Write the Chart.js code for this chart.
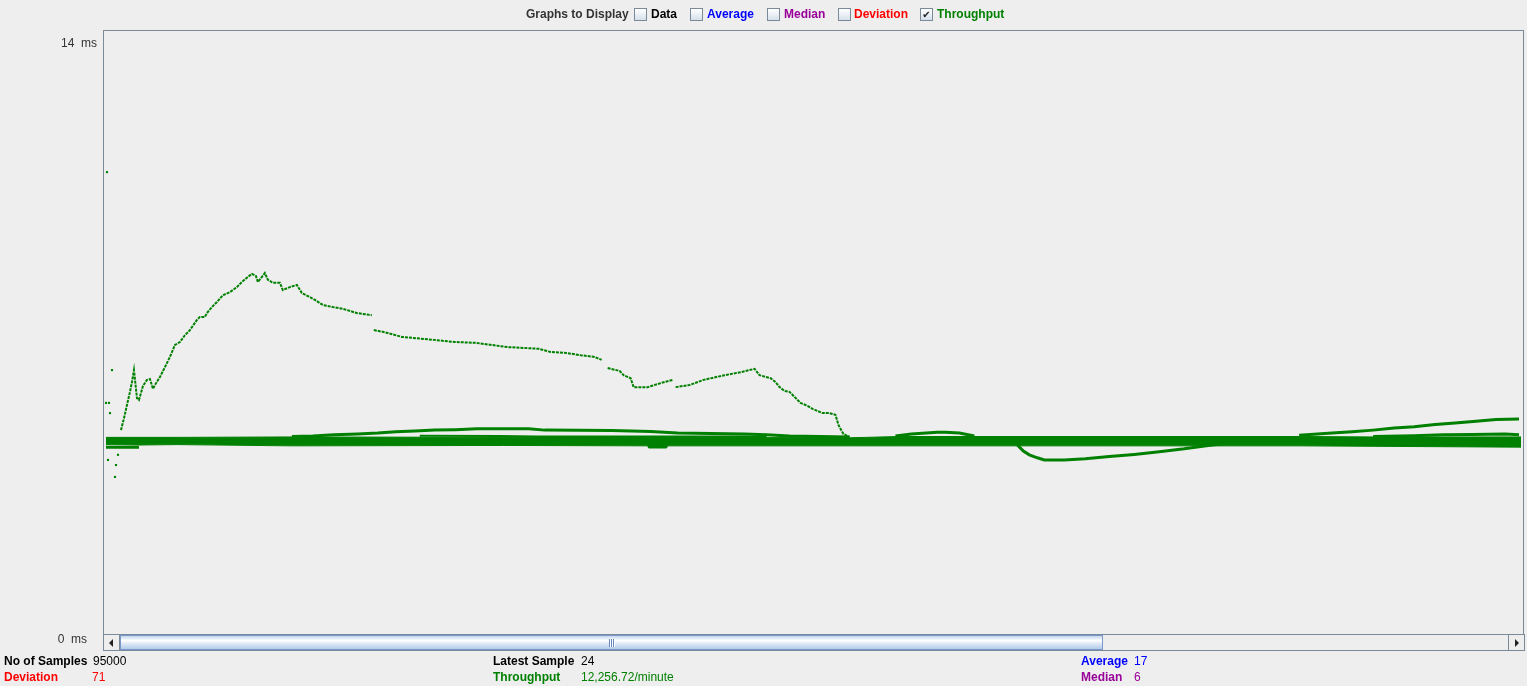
<!DOCTYPE html>
<html>
<head>
<meta charset="utf-8">
<title>Graph Results</title>
<script src="https://cdn.jsdelivr.net/npm/chart.js@4.4.0/dist/chart.umd.min.js"></script>
<style>
html, body { margin:0; padding:0; background:#eeeeee; width:1527px; height:686px; overflow:hidden; }
body { position:relative; font-family:"Liberation Sans", Arial, sans-serif; font-size:12px; color:#333; }
#chart { position:absolute; left:0; top:0; }
.t { position:absolute; height:14px; line-height:14px; white-space:nowrap; }
.b { font-weight:bold; }
.cb { position:absolute; top:8px; width:11px; height:11px; border:1px solid #7a8a99;
      background:linear-gradient(#ffffff, #d6e0ea); font-family:"DejaVu Sans"; font-size:10px;
      line-height:11px; text-align:center; color:#222; }
#sb { position:absolute; left:103px; top:634px; width:1420px; height:15px; border:1px solid #7a8a99; background:#eeeeee; }
#sbl, #sbr { position:absolute; top:0; width:15px; height:15px; background:#eeeeee; }
#sbl { left:0; border-right:1px solid #7a8a99; }
#sbr { left:1404px; border-left:1px solid #7a8a99; }
.arrow { position:absolute; top:4px; width:0; height:0; border-top:4px solid transparent; border-bottom:4px solid transparent; }
#sbl .arrow { left:5px; border-right:4px solid #222; }
#sbr .arrow { left:6px; border-left:4px solid #222; }
#thumb { position:absolute; left:16px; top:0; width:981px; height:13px; border:1px solid #7b98cc;
         background:linear-gradient(#c4d7ef 0%, #ffffff 35%, #e2ecf8 55%, #b3cbe8 100%); }
.grip { position:absolute; top:3px; width:1px; height:8px; background:#6a88c0; box-shadow:1px 0 0 #ffffff; }
</style>
</head>
<body>
<canvas id="chart" width="1527" height="686"></canvas>

<!-- Checkboxes del encabezado -->
<div class="t b" style="left:526px; top:7px;">Graphs to Display</div>
<div class="cb" style="left:634px;"></div>
<div class="t b" style="left:651px; top:7px; color:#000;">Data</div>
<div class="cb" style="left:690px;"></div>
<div class="t b" style="left:707px; top:7px; color:#0000ff;">Average</div>
<div class="cb" style="left:767px;"></div>
<div class="t b" style="left:784px; top:7px; color:#990099;">Median</div>
<div class="cb" style="left:838px;"></div>
<div class="t b" style="left:854px; top:7px; color:#ff0000;">Deviation</div>
<div class="cb" style="left:920px;">✔</div>
<div class="t b" style="left:937px; top:7px; color:#008000;">Throughput</div>

<!-- Barra de desplazamiento -->
<div id="sb">
  <div id="sbl"><div class="arrow"></div></div>
  <div id="thumb">
    <div class="grip" style="left:488px;"></div>
    <div class="grip" style="left:490px;"></div>
    <div class="grip" style="left:492px;"></div>
  </div>
  <div id="sbr"><div class="arrow"></div></div>
</div>

<!-- Resumen inferior -->
<div class="t b" style="left:4px; top:654px; color:#000;">No of Samples</div>
<div class="t" style="left:93px; top:654px; color:#000;">95000</div>
<div class="t b" style="left:4px; top:670px; color:#ff0000;">Deviation</div>
<div class="t" style="left:92px; top:670px; color:#ff0000;">71</div>
<div class="t b" style="left:493px; top:654px; color:#000;">Latest Sample</div>
<div class="t" style="left:581px; top:654px; color:#000;">24</div>
<div class="t b" style="left:493px; top:670px; color:#008000;">Throughput</div>
<div class="t" style="left:581px; top:670px; color:#008000;">12,256.72/minute</div>
<div class="t b" style="left:1081px; top:654px; color:#0000ff;">Average</div>
<div class="t" style="left:1134px; top:654px; color:#0000ff;">17</div>
<div class="t b" style="left:1081px; top:670px; color:#990099;">Median</div>
<div class="t" style="left:1134px; top:670px; color:#990099;">6</div>

<script>
// Datos (x = muestra, y = ms)
const yTicks = [0, 14];

// puntos sueltos al inicio
const startX = [2, 3, 4, 5, 6, 8, 11, 12, 14];
const startY = [5.57, 10.99, 4.23, 5.57, 5.33, 6.34, 3.83, 4.11, 4.35];

// primera pasada del throughput
const mainX = [17,20,23,26,28,30,33,35,37,39,43,46,49,51,56,61,66,71,76,81,86,93,96,101,103,108,113,119,126,133,138,144,148,152,154,161,164,169,176,179,186,193,198,204,211,219,229,239,253,268,269,270,281,298,330,351,372,404,421,435,446,463,477,491,498,501,504,516,520,527,530,544,558,569,571,572,586,600,621,639,651,656,667,672,676,681,686,691,697,704,709,719,726,732,735,737,740,746];
const mainY = [4.93,5.21,5.52,5.83,6.06,6.34,5.68,5.64,5.80,5.97,6.11,6.13,5.90,5.99,6.18,6.41,6.65,6.93,7.00,7.16,7.28,7.52,7.59,7.59,7.68,7.82,7.94,8.10,8.17,8.29,8.41,8.53,8.60,8.55,8.41,8.62,8.46,8.39,8.39,8.22,8.29,8.34,8.15,8.08,7.99,7.87,7.82,7.78,7.68,7.63,null,7.28,7.23,7.12,7.05,7.00,6.98,6.88,6.86,6.84,6.77,6.74,6.69,6.65,6.58,null,6.39,6.32,6.22,6.15,5.94,5.94,6.04,6.11,null,5.94,5.99,6.11,6.22,6.30,6.37,6.22,6.15,6.06,5.94,5.85,5.83,5.71,5.57,5.50,5.43,5.33,5.33,5.29,5.05,4.96,4.84,4.77];

// banda gruesa (pasadas superpuestas)
const bandX = [2, 35, 73, 188, 400, 544, 545, 563, 564, 746, 796, 1196, 1270, 1418];
const bandTop = [4.76, 4.76, 4.76, 4.77, 4.76, 4.76, 4.76, 4.76, 4.76, 4.75, 4.78, 4.78, 4.77, 4.77];
const bandBottom = [4.59, 4.58, 4.59, 4.56, 4.57, 4.56, 4.51, 4.51, 4.56, 4.56, 4.56, 4.56, 4.55, 4.53];

const lowX = [2, 35];
const lowY = [4.53, 4.53];

const arcX = [188,209,230,254,274,292,311,331,352,373,425,441,508,547,574,641,663,686,746];
const arcY = [4.78,4.79,4.82,4.84,4.86,4.89,4.91,4.93,4.94,4.96,4.96,4.93,4.92,4.90,4.86,4.84,4.82,4.79,4.77];

const arc2X = [316, 396, 433, 641, 663];
const arc2Y = [4.80, 4.79, 4.78, 4.78, 4.77];

const bumpX = [792, 808, 834, 842, 856, 871];
const bumpY = [4.79, 4.84, 4.88, 4.88, 4.86, 4.79];

const dipX = [912,920,926,934,941,961,982,1006,1031,1056,1081,1105,1126];
const dipY = [4.63,4.44,4.35,4.28,4.23,4.23,4.26,4.31,4.36,4.42,4.49,4.57,4.63];

const riseX = [1196,1229,1249,1270,1291,1311,1332,1352,1373,1393,1416];
const riseY = [4.81,4.86,4.89,4.93,4.98,5.01,5.06,5.10,5.14,5.18,5.19];

const rise2X = [1270, 1311, 1340, 1369, 1402, 1416];
const rise2Y = [4.78, 4.80, 4.82, 4.83, 4.84, 4.82];

const green = '#008000';

function pts(xs, ys) {
  return xs.map((x, i) => ({ x: x, y: ys[i] }));
}

function line(xs, ys, width) {
  return {
    data: pts(xs, ys),
    borderColor: green,
    borderWidth: width,
    pointRadius: 0,
    spanGaps: false,
    tension: 0,
    fill: false
  };
}

// Borde del area del grafico
const frame = {
  id: 'frame',
  beforeDatasetsDraw(chart) {
    const a = chart.chartArea;
    const ctx = chart.ctx;
    ctx.save();
    ctx.strokeStyle = '#7a8a99';
    ctx.lineWidth = 1;
    ctx.strokeRect(a.left - 0.5, a.top + 0.5, a.right - a.left + 1, 620);
    ctx.restore();
  }
};

const datasets = [
  line(bandX, bandTop, 1),
  Object.assign(line(bandX, bandBottom, 1), { fill: '-1', backgroundColor: green }),
  line(lowX, lowY, 3),
  line(arcX, arcY, 3),
  line(arc2X, arc2Y, 2),
  line(bumpX, bumpY, 3),
  line(dipX, dipY, 3),
  line(riseX, riseY, 3),
  line(rise2X, rise2Y, 3),
  Object.assign(line(mainX, mainY, 2), { borderDash: [3, 1] }),
  {
    data: pts(startX, startY),
    showLine: false,
    pointStyle: 'rect',
    pointRadius: 1.5,
    backgroundColor: green,
    borderWidth: 0
  }
];

new Chart(document.getElementById('chart').getContext('2d'), {
  type: 'line',
  data: { datasets: datasets },
  options: {
    responsive: false,
    animation: false,
    devicePixelRatio: 1,
    layout: { padding: { left: 0, right: 3, top: 30, bottom: 46 } },
    plugins: { legend: { display: false }, tooltip: { enabled: false } },
    scales: {
      x: { type: 'linear', min: 0, max: 1420, display: false },
      y: {
        type: 'linear',
        min: 0,
        max: 14 * 610 / 596,
        position: 'left',
        afterFit(scale) { scale.width = 104; },
        afterBuildTicks(scale) { scale.ticks = yTicks.map(v => ({ value: v })); },
        grid: { display: false, drawTicks: false },
        border: { display: false },
        ticks: {
          padding: 7,
          color: '#333',
          font: { family: 'Liberation Sans', size: 12 },
          callback: v => v === 0 ? v + '  ms   ' : v + '  ms'
        }
      }
    }
  },
  plugins: [frame]
});
</script>
</body>
</html>
